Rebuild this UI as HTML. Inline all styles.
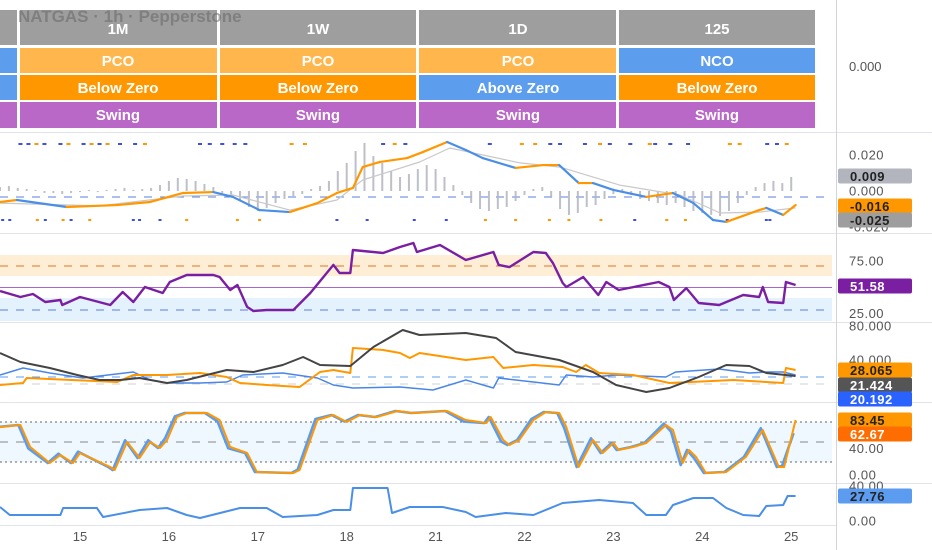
<!DOCTYPE html>
<html><head><meta charset="utf-8"><style>
html,body{margin:0;padding:0;background:#fff;}
svg{display:block;font-family:"Liberation Sans",sans-serif;}
</style></head><body>
<svg id="c" width="932" height="550" viewBox="0 0 932 550">
<defs>
<clipPath id="plotclip"><rect x="0" y="0" width="832" height="550"/></clipPath>
</defs>
<!-- status table -->
<g font-weight="bold" font-size="15" fill="#fff" text-anchor="middle">
 <rect x="0" y="10" width="17" height="35" fill="#9e9e9e"/>
 <rect x="0" y="48" width="17" height="25" fill="#5c9ded"/>
 <rect x="0" y="75" width="17" height="25" fill="#5c9ded"/>
 <rect x="0" y="102" width="17" height="26" fill="#ba68c8"/>
 <g>
  <rect x="20" y="10" width="197" height="35" fill="#9e9e9e"/><text x="118" y="34">1M</text>
  <rect x="20" y="48" width="197" height="25" fill="#ffb74d"/><text x="118" y="66">PCO</text>
  <rect x="20" y="75" width="197" height="25" fill="#ff9800"/><text x="118" y="93">Below Zero</text>
  <rect x="20" y="102" width="197" height="26" fill="#ba68c8"/><text x="118" y="120">Swing</text>
 </g>
 <g>
  <rect x="220" y="10" width="196" height="35" fill="#9e9e9e"/><text x="318" y="34">1W</text>
  <rect x="220" y="48" width="196" height="25" fill="#ffb74d"/><text x="318" y="66">PCO</text>
  <rect x="220" y="75" width="196" height="25" fill="#ff9800"/><text x="318" y="93">Below Zero</text>
  <rect x="220" y="102" width="196" height="26" fill="#ba68c8"/><text x="318" y="120">Swing</text>
 </g>
 <g>
  <rect x="419" y="10" width="197" height="35" fill="#9e9e9e"/><text x="518" y="34">1D</text>
  <rect x="419" y="48" width="197" height="25" fill="#ffb74d"/><text x="518" y="66">PCO</text>
  <rect x="419" y="75" width="197" height="25" fill="#5c9ded"/><text x="518" y="93">Above Zero</text>
  <rect x="419" y="102" width="197" height="26" fill="#ba68c8"/><text x="518" y="120">Swing</text>
 </g>
 <g>
  <rect x="619" y="10" width="196" height="35" fill="#9e9e9e"/><text x="717" y="34">125</text>
  <rect x="619" y="48" width="196" height="25" fill="#5c9ded"/><text x="717" y="66">NCO</text>
  <rect x="619" y="75" width="196" height="25" fill="#ff9800"/><text x="717" y="93">Below Zero</text>
  <rect x="619" y="102" width="196" height="26" fill="#ba68c8"/><text x="717" y="120">Swing</text>
 </g>
</g>
<text x="18" y="22" font-size="17" font-weight="bold" fill="#666" fill-opacity="0.55">NATGAS · 1h · Pepperstone</text>
<text x="849" y="71" font-size="13" fill="#555">0.000</text>
<!-- separators -->
<g stroke="#e0e3eb" stroke-width="1">
 <line x1="0" y1="132.5" x2="932" y2="132.5"/>
 <line x1="0" y1="233.5" x2="932" y2="233.5"/>
 <line x1="0" y1="322.5" x2="932" y2="322.5"/>
 <line x1="0" y1="402.5" x2="932" y2="402.5"/>
 <line x1="0" y1="483.5" x2="932" y2="483.5"/>
 <line x1="0" y1="525.5" x2="836" y2="525.5"/>
</g>
<line x1="836.5" y1="0" x2="836.5" y2="550" stroke="#d1d4dc"/>
<!-- static levels -->
<g>
 <rect x="0" y="255" width="832" height="21" fill="#ff9800" fill-opacity="0.16"/>
 <rect x="0" y="298" width="832" height="23" fill="#2196f3" fill-opacity="0.12"/>
 <rect x="0" y="422" width="832" height="40" fill="#2196f3" fill-opacity="0.07"/>
 <line x1="0" y1="197" x2="832" y2="197" stroke="#5b7fe0" stroke-dasharray="8,8"/>
 <line x1="0" y1="266" x2="832" y2="266" stroke="#e0742a" stroke-dasharray="8,8"/>
 <line x1="0" y1="287.5" x2="832" y2="287.5" stroke="#a569c8" stroke-width="1"/>
 <line x1="0" y1="310" x2="832" y2="310" stroke="#5b7fd8" stroke-dasharray="8,8"/>
 <line x1="0" y1="377" x2="832" y2="377" stroke="#5b9cf0" stroke-dasharray="8,8"/>
 <line x1="0" y1="384" x2="832" y2="384" stroke="#d0d0d0" stroke-dasharray="8,8"/>
 <line x1="0" y1="422" x2="832" y2="422" stroke="#666" stroke-dasharray="2,3"/>
 <line x1="0" y1="442" x2="832" y2="442" stroke="#888" stroke-dasharray="8,8"/>
 <line x1="0" y1="462" x2="832" y2="462" stroke="#666" stroke-dasharray="2,3"/>
</g>
<g id="marks" clip-path="url(#plotclip)"></g>
<g id="axes"></g>
</svg>
<script>
// ---- data ----
const dayLabels = ["15","16","17","18","21","22","23","24","25"];
const macdTimes = [-0.90,-0.71,-0.15,0.42,0.79,1.16,1.50,1.72,2.02,2.36,2.67,2.89,3.07,3.18,3.37,3.68,3.86,4.13,4.34,4.53,4.90,5.21,5.39,5.61,5.77,6.00,6.37,6.67,6.90,7.12,7.27,7.64,7.72,7.91,8.05];
const macdValues = [-6.1,-5,-8.9,-7.8,-6.1,-1.1,-0.6,-3.3,-10.6,-11.7,-6.7,-1.1,1.7,13.3,16.1,18.3,21.7,27.2,22.8,18.3,12.8,14.4,14.4,4.4,4.4,0.6,-3.3,-1.1,-6.7,-16.1,-17.2,-10.6,-9.4,-13.3,-7.8];
const signalTimes = [-0.90,0.22,1.16,1.72,2.36,2.89,3.18,3.82,4.16,4.95,5.40,6.07,6.75,7.20,7.64,8.05];
const signalValues = [-6.7,-8.3,-2.8,-2.2,-10.6,-5,6.1,16.1,23.9,15.6,13.3,3.3,-2.2,-12.2,-11.7,-9.4];
const histStart = -0.9, histStep = 0.1;
const histValues = [2.2,2.8,1.7,1.1,0.6,-1.1,-1.1,-1.7,-1.1,-0.6,0.6,-0.6,0.6,1.1,1.7,0.6,1.1,1.7,3.3,5.6,7.2,6.7,5.6,3.9,2.2,-1.1,-3.3,-5.6,-8.9,-11.1,-9.4,-6.7,-4.4,-2.8,-1.7,1.1,2.8,5.6,11.1,15.6,22.2,26.7,19.4,15.6,11.1,7.8,9.4,12.2,14.4,12.2,7.8,3.3,-2.2,-6.7,-10,-11.1,-10,-8.9,-5.6,-2.2,1.1,2.2,-3.3,-10,-13.3,-12.2,-8.9,-7.8,-4.4,-1.7,1.1,-2.2,-4.4,-5.6,-6.7,-7.8,-6.7,-8.9,-11.1,-12.2,-13.3,-13.9,-11.1,-6.7,-2.2,2.2,4.4,5.6,4.4,7.8];
const topDotTimes = [-0.67,-0.58,-0.49,-0.40,-0.22,-0.13,0.04,0.13,0.22,0.31,0.45,0.62,0.73,1.35,1.46,1.60,1.74,1.86,2.38,2.53,3.41,3.54,3.66,4.61,4.97,5.12,5.29,5.40,5.68,5.85,5.96,6.19,6.41,6.47,6.64,6.84,7.31,7.42,7.73,7.84,7.95];
const topDotKinds = ["b","b","o","b","b","o","b","o","b","o","b","b","o","b","b","b","b","b","o","o","b","o","b","b","o","o","b","b","b","o","b","b","o","b","b","b","o","o","b","b","o"];
const botDotTimes = [-0.87,-0.79,-0.48,-0.39,-0.19,-0.10,0.11,0.60,0.67,0.90,1.20,1.77,2.02,2.89,3.23,3.76,4.12,4.56,4.90,5.28,5.50,5.86,6.24,6.60,6.81,7.28,7.72,7.76];
const botDotKinds = ["b","b","o","b","o","b","o","b","b","b","o","o","o","b","b","b","b","o","o","o","o","o","b","o","o","b","b","b"];
const rsiTimes = [-0.90,-0.67,-0.53,-0.39,-0.22,-0.20,0,0.34,0.48,0.60,0.73,0.93,1.01,1.20,1.50,1.57,1.69,1.77,1.88,1.95,2.10,2.40,2.59,2.85,2.92,3.04,3.07,3.41,3.60,3.75,3.79,4.05,4.34,4.65,4.71,4.83,5.10,5.24,5.32,5.43,5.47,5.66,5.83,5.92,6.06,6.51,6.63,6.68,6.82,6.96,7.19,7.46,7.64,7.68,7.74,7.91,7.94,8.05];
const rsiValues = [46.2,40.5,43.3,35.7,37.6,32.9,40.5,32.9,45.2,35.7,50,44.3,54.8,61.4,61.4,59.5,47.1,51.9,31,27.1,28.1,28.1,44.3,71,63.3,63.3,85.2,82.4,88.1,91.9,83.3,90,75.7,83.3,71,69,83.3,82.4,72.9,53.8,50,59.5,42.4,54.8,47.1,54.8,50,37.6,49,34.8,32.9,42.4,40.5,50,35.7,34.8,54.8,51.9];
const adxTimes = [-0.90,-0.67,-0.34,-0.03,0.22,0.45,0.67,0.98,1.20,1.65,1.95,2.28,2.51,2.70,3.04,3.30,3.63,3.82,4.34,4.68,4.90,5.39,5.77,6.03,6.37,6.63,6.96,7.27,7.53,7.72,8.05];
const adxValues = [48.2,37.6,30.6,22.4,16.5,16.5,18.8,12.9,16.5,28.2,25.9,34.1,43.5,34.1,32.9,55.3,75.3,69.4,71.8,65.9,49.4,40,25.9,10.6,2.4,7.1,20,34.1,32.9,24.7,21.2];
const plusDiTimes = [-0.90,-0.64,-0.60,0.42,0.60,0.98,1.35,1.65,1.80,2.10,2.47,2.70,2.85,3.04,3.07,3.41,3.60,3.71,3.82,4.34,4.65,4.76,5.10,5.43,5.58,5.69,5.84,6.22,6.63,7.35,7.91,7.94,8.05];
const plusDiValues = [10.6,12.9,18.8,14.1,22.4,22.4,24.7,20,12.9,10.6,8.2,25.9,28.2,24.7,54.1,51.8,48.2,42.4,48.2,40,43.5,30.6,34.1,31.8,25.9,34.1,24.7,22.4,12.9,16.5,12.9,30.6,28.2];
const minusDiTimes = [-0.90,-0.64,-0.34,0.03,0.60,0.79,0.98,1.35,1.65,1.83,2.28,2.67,2.85,3.07,3.60,3.97,4.34,4.65,4.71,5.10,5.39,5.47,5.77,6.03,6.59,6.70,7.19,7.53,7.72,7.91,8.05];
const minusDiValues = [22.4,30.6,24.7,18.8,25.9,16.5,12.9,12.9,14.1,22.4,24.7,18.8,10.6,7.1,8.2,4.7,16.5,7.1,18.8,14.1,10.6,22.4,20,22.4,20,25.9,29.4,24.7,25.9,25.9,22.4];
const stochTimes = [-0.90,-0.67,-0.56,-0.34,-0.22,-0.08,0,0.34,0.39,0.53,0.67,0.79,0.90,0.98,1.09,1.20,1.43,1.57,1.69,1.88,1.99,2.40,2.47,2.67,2.85,3.00,3.15,3.34,3.57,3.75,4.13,4.34,4.57,4.62,4.76,4.83,4.94,5.10,5.24,5.39,5.47,5.61,5.77,5.88,6.00,6.06,6.22,6.37,6.59,6.67,6.78,6.85,6.93,7.04,7.27,7.49,7.68,7.86,7.92,8.05];
const stochDValues = [72,75,42,18,30,18,33,12,7.5,49.5,25.5,49.5,40.5,52.5,87,93,93,82.5,42,33,4.5,3,7.5,82.5,90,79.5,90,87,96,93,96,82.5,78,87,52.5,45,52.5,82.5,94.5,93,72,12,52.5,33,48,37.5,42,48,75,67.5,18,37.5,27,3,4.5,27,67.5,12,12,82.5];
const stochKValues = [72,75,40,18,32,18,35,12,7.5,52,25.5,52,40.5,55,88,93,93,80,40,33,4.5,3,8,84,90,80,90,87,96,93,96,80,78,87,50,45,52.5,84,94.5,93,70,12,55,33,48,37.5,42,48,77,65,15,37.5,25,3,4.5,27,70,12,14,62.7];
const p5Times = [-0.90,-0.79,-0.22,-0.19,0.19,0.26,0.67,0.98,1.20,1.35,1.80,2.10,2.28,2.67,2.85,3.04,3.07,3.46,3.51,3.71,4.08,4.34,4.45,4.79,5.10,5.43,5.84,6.22,6.37,6.59,6.67,6.90,7.12,7.27,7.46,7.64,7.72,7.91,7.96,8.05];
const p5Values = [16,6.9,6.9,14.9,14.9,4.6,12.6,14.9,6.9,3.4,14.9,14.9,4.6,6.9,12.6,12.6,37.7,37.7,9.1,16,16,10.3,4.6,9.1,6.9,20.6,24,20.6,6.9,6.9,18.3,26.3,26.3,14.9,6.9,5.7,17.1,18.3,28.6,28.6];
const macdTicks = [20, 0, -20];
const macdTickLabels = ["0.020","0.000","-0.020"];
const rsiTicks = [75, 25];
const adxTicks = [80, 40];
const stochTicks = [40, 0];
const p5Ticks = [40, 0];

// ---- axes ----
const NS = "http://www.w3.org/2000/svg";
const xS = s => 80 + s * 88.9;
const macdY = v => 191 - v * 1.8;
const rsiY = v => 287 - (v - 50) * 1.05;
const adxY = v => 394 - v * 0.85;
const stY = v => 475 - v * 0.667;
const p5Y = v => 521 - v * 0.875;
const marks = document.getElementById('marks');
const axes = document.getElementById('axes');
function mk(tag, attrs, parent) {
  const e = document.createElementNS(NS, tag);
  for (const k in attrs) e.setAttribute(k, attrs[k]);
  parent.appendChild(e);
  return e;
}
function line(times, vals, yf, color, w, name, dx) {
  const pts = times.map((t, i) => (xS(t) + (dx || 0)).toFixed(1) + ',' + yf(vals[i]).toFixed(1)).join(' ');
  const p = mk('polyline', {points: pts, fill: 'none', stroke: color, 'stroke-width': w, 'stroke-linejoin': 'round'}, marks);
  
  
  return p;
}
// MACD histogram
histValues.forEach((v, i) => {
  const x = xS(histStart + i * histStep);
  const y0 = macdY(0), y1 = macdY(v);
  const r = mk('rect', {x: x - 1, y: Math.min(y0, y1), width: 2, height: Math.max(0.8, Math.abs(y1 - y0)), fill: '#b2b5be', 'fill-opacity': 0.85}, marks);
  
  
});
// dots
topDotTimes.forEach((t, i) => {
  const c = mk('rect', {x: xS(t) - 2, y: 143, width: 4, height: 2, fill: topDotKinds[i] === 'b' ? '#3f51d8' : '#ff9800'}, marks);
  
  
});
botDotTimes.forEach((t, i) => {
  const c = mk('rect', {x: xS(t) - 1.5, y: 219, width: 3, height: 2, fill: botDotKinds[i] === 'b' ? '#3f51d8' : '#ff9800'}, marks);
  
  
});
line(signalTimes, signalValues, macdY, '#c8c8c8', 1.2, 'macd-signal-line');
for (let i = 0; i < macdTimes.length - 1; i++) {
  const col = macdValues[i + 1] >= macdValues[i] ? '#ff9800' : '#4a8fe7';
  const s = mk('line', {x1: xS(macdTimes[i]), y1: macdY(macdValues[i]), x2: xS(macdTimes[i + 1]), y2: macdY(macdValues[i + 1]), stroke: col, 'stroke-width': 2.2, 'stroke-linecap': 'round'}, marks);
  
  
}
line(rsiTimes, rsiValues, rsiY, '#7b1fa2', 2.4, 'rsi-line');
line(minusDiTimes, minusDiValues, adxY, '#4a86e8', 1.5, 'minus-di-line');
line(plusDiTimes, plusDiValues, adxY, '#ff9800', 2, 'plus-di-line');
line(adxTimes, adxValues, adxY, '#444', 2, 'adx-line');
line(stochTimes, stochKValues, stY, '#5b9cf0', 2.6, 'stoch-k-line', -2);
line(stochTimes, stochDValues, stY, '#ff9800', 2, 'stoch-d-line');
line(p5Times, p5Values, p5Y, '#4a8fe7', 2, 'pane5-line');

// x axis labels
dayLabels.forEach((d, i) => {
  const t = mk('text', {x: xS(i), y: 541, 'font-size': 13, fill: '#555', 'text-anchor': 'middle'}, axes);
  t.textContent = d;
  
  
});
// y tick labels
function ytick(v, yf, label) {
  const t = mk('text', {x: 849, y: yf(v) + 4.5, 'font-size': 13, fill: '#555', 'letter-spacing': '0.5'}, axes);
  t.textContent = label;
  
  
}
macdTicks.forEach((v, i) => ytick(v, macdY, macdTickLabels[i]));
rsiTicks.forEach(v => ytick(v, rsiY, v.toFixed(2)));
adxTicks.forEach(v => ytick(v, adxY, v.toFixed(3)));
stochTicks.forEach(v => ytick(v, stY, v.toFixed(2)));
p5Ticks.forEach(v => ytick(v, p5Y, v.toFixed(2)));
// value badges
const badgeLabels = ["0.009","-0.016","-0.025","51.58","28.065","21.424","20.192","83.45","62.67","27.76"];
const badgeColors = ["#b2b5be","#ff9800","#9e9e9e","#7b1fa2","#ff9800","#555","#2962ff","#ff9800","#ff6d00","#5b9cf0"];
const badgeText = ["#222","#222","#222","#fff","#222","#fff","#fff","#222","#fff","#222"];
const badgeY = [176,206,220,286,370,385,399,420,434,496];
badgeLabels.forEach((l, i) => {
  const g = mk('g', {}, axes);
  
  
  mk('rect', {x: 838, y: badgeY[i] - 7.5, width: 74, height: 15, rx: 2, fill: badgeColors[i]}, g);
  const t = mk('text', {x: 850, y: badgeY[i] + 5, 'font-size': 13, fill: badgeText[i], 'letter-spacing': '0.5', 'font-weight': 'bold'}, g);
  t.textContent = l;
});
</script>
</body></html>
